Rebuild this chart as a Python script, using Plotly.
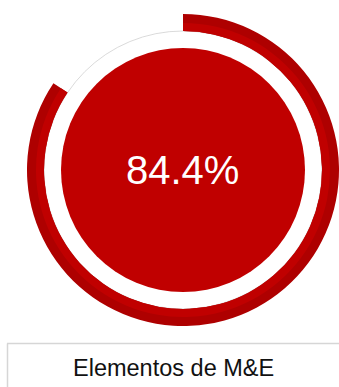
import plotly.graph_objects as go

# Indicator data
indicator_name = "Elementos de M&E"
segment_names = ["Completado", "Restante"]
completion_pct = 84.4
segment_values = [completion_pct, 100 - completion_pct]

W, H = 339, 387
RED = "#C00000"
DARK_RED = "#AE0000"

# Ring geometry in pixels (center measured from top-left)
cx, cy = 183, 170
r_outer, r_mid, r_inner, r_disc = 156, 147, 139, 122


def dom(r):
    x0 = max(0.0, (cx - r) / W)
    x1 = min(1.0, (cx + r) / W)
    yb = H - cy
    return dict(x=[x0, x1], y=[(yb - r) / H, (yb + r) / H])


fig = go.Figure()

# outer (darker) band of the progress ring
fig.add_trace(go.Pie(
    labels=segment_names, values=segment_values,
    domain=dom(r_outer), hole=r_inner / r_outer,
    sort=False, direction="clockwise", rotation=0,
    marker=dict(colors=[DARK_RED, "rgba(0,0,0,0)"], line=dict(width=0)),
    textinfo="none", hoverinfo="none", showlegend=False,
))

# inner (lighter) band of the progress ring
fig.add_trace(go.Pie(
    labels=segment_names, values=segment_values,
    domain=dom(r_mid), hole=r_inner / r_mid,
    sort=False, direction="clockwise", rotation=0,
    marker=dict(colors=[RED, "rgba(0,0,0,0)"], line=dict(width=0)),
    textinfo="none", hoverinfo="none", showlegend=False,
))


def px_circle(r):
    return dict(x0=(cx - r) / W, x1=(cx + r) / W,
                y0=(H - cy - r) / H, y1=(H - cy + r) / H)


shapes = [
    # faint track under the ring
    dict(type="circle", xref="paper", yref="paper", layer="below",
         line=dict(color="#D0D0D0", width=0.8), fillcolor="rgba(0,0,0,0)",
         **px_circle(r_inner)),
    # central filled disc
    dict(type="circle", xref="paper", yref="paper", layer="below",
         line=dict(width=0), fillcolor=RED, **px_circle(r_disc)),
    # label box borders
    dict(type="line", xref="paper", yref="paper",
         x0=7 / W, x1=1, y0=1 - 343.5 / H, y1=1 - 343.5 / H,
         line=dict(color="#D6D6D6", width=1.5)),
    dict(type="line", xref="paper", yref="paper",
         x0=7.5 / W, x1=7.5 / W, y0=0, y1=1 - 343.5 / H,
         line=dict(color="#D6D6D6", width=1.5)),
]

annotations = [
    dict(text=f"{completion_pct:.1f}%", xref="paper", yref="paper",
         x=182 / W, y=1 - 170 / H, xanchor="center", yanchor="middle",
         showarrow=False,
         font=dict(family="Liberation Sans, Arial, sans-serif", size=40, color="white")),
    dict(text=indicator_name, xref="paper", yref="paper",
         x=173.5 / W, y=1 - 368 / H, xanchor="center", yanchor="middle",
         showarrow=False,
         font=dict(family="Liberation Sans, Arial, sans-serif", size=23.5, color="#111111")),
]

fig.update_layout(
    width=W, height=H,
    margin=dict(l=0, r=0, t=0, b=0),
    paper_bgcolor="white", plot_bgcolor="white",
    shapes=shapes, annotations=annotations,
    showlegend=False,
)

fig.write_html("out.html", config={"displayModeBar": False})
